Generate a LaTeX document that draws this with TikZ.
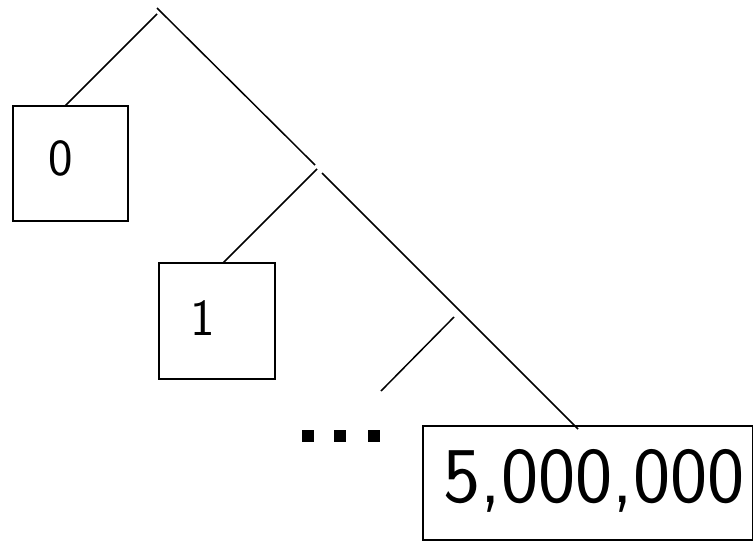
\documentclass[tikz,border=0pt]{standalone}
\begin{document}
\begin{tikzpicture}[x=1pt,y=-1pt,
  edge/.style={line width=1.5pt},
  boxnode/.style={draw,line width=1.2pt,rectangle,inner sep=0pt},
  lbl/.style={inner sep=0pt,font=\sffamily},
  dotsq/.style={fill=black,draw=none,rectangle,inner sep=0pt,minimum size=12pt}]
\useasboundingbox (0,0) rectangle (753,541);
% boxes
\node[boxnode,minimum width=115pt,minimum height=115pt] (b0) at (70.5,163.5) {};
\node[boxnode,minimum width=116pt,minimum height=116pt] (b1) at (217,321) {};
\node[boxnode,minimum width=330pt,minimum height=114pt] (b5) at (588,483) {};
% texts
\node[lbl,font=\sffamily\fontsize{52}{52}\selectfont] (t0) at (61,158) {0};
\node[lbl,font=\sffamily\fontsize{52}{52}\selectfont] (t1) at (203,318) {1};
\node[lbl,font=\sffamily\fontsize{79}{79}\selectfont] (t5) at (594,481) {5,000,000};
% dots
\node[dotsq] (d1) at (308,435.5) {};
\node[dotsq] (d2) at (340,435.5) {};
\node[dotsq] (d3) at (374,435.5) {};
% junction coordinates
\coordinate (r1) at (157,14);
\coordinate (r2) at (157,8);
\coordinate (c0) at (65,106);
\coordinate (j1) at (315,165);
\coordinate (j2a) at (317,169);
\coordinate (j2b) at (322,173);
\coordinate (c1) at (223,263);
\coordinate (c5) at (578,429);
\coordinate (j3a) at (454,317);
\coordinate (j3b) at (381,391);
% edges
\draw[edge] (r1) -- (c0);
\draw[edge] (r2) -- (j1);
\draw[edge] (j2a) -- (c1);
\draw[edge] (j2b) -- (c5);
\draw[edge] (j3a) -- (j3b);
\end{tikzpicture}
\end{document}
